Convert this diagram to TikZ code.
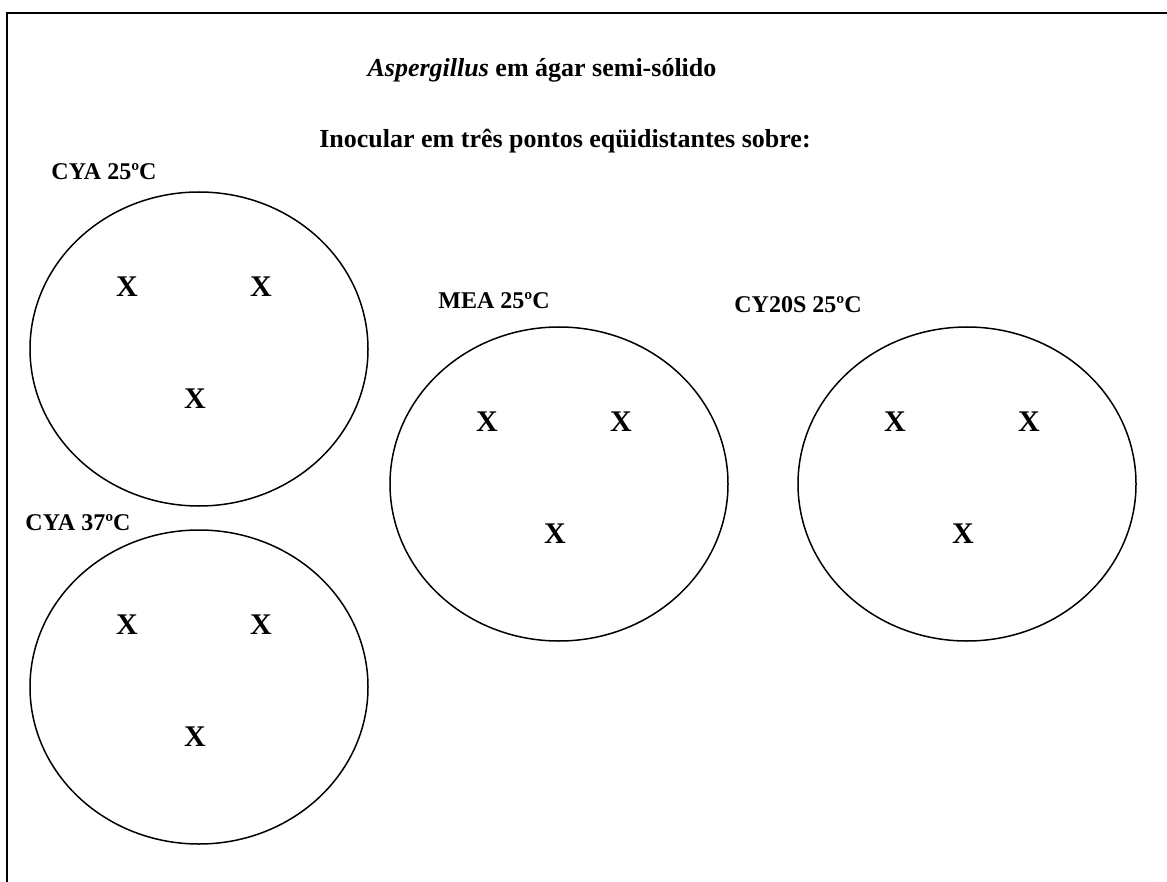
\documentclass[tikz,border=0pt]{standalone}
\usepackage{fontspec}
\setmainfont{Liberation Serif}
\usetikzlibrary{shapes.geometric,positioning}

\begin{document}
\begin{tikzpicture}[x=1pt, y=-1pt,
  plate/.style={draw, ellipse, line width=1.5pt, minimum width=338pt,
    minimum height=314pt, inner sep=0pt},
  spot/.style={font=\fontsize{30}{30}\selectfont\bfseries, inner sep=0pt},
  platelabel/.style={font=\fontsize{24}{24}\selectfont\bfseries, inner sep=0pt},
  heading/.style={font=\fontsize{26}{26}\selectfont\bfseries, inner sep=0pt}]
  \useasboundingbox (0,0) rectangle (1167,882);
  \draw[line width=2pt] (7,882) -- (7,13) -- (1167,13);
  \node[heading] (title) at (542,70) {\textit{Aspergillus} em ágar semi-sólido};
  \node[heading] (task) at (565,141) {Inocular em três pontos eqüidistantes sobre:};
  % plates with three inoculation points
  \foreach \name/\px/\py/\lx/\ly/\txt in {cya25/199/349/104/172/CYA 25ºC,
      cya37/199/687/78/523/CYA 37ºC, mea/559/484/494/301/MEA 25ºC,
      cy20s/967/484/798/305/CY20S 25ºC} {
    \node[plate] (\name) at (\px,\py) {};
    \node[platelabel] (\name-label) at (\lx,\ly) {\txt};
    \node[spot] (\name-a) at ([shift={(-72,-62)}]\name.center) {X};
    \node[spot] (\name-b) at ([shift={(62,-62)}]\name.center) {X};
    \node[spot] (\name-c) at ([shift={(-4,50)}]\name.center) {X};
  }
\end{tikzpicture}
\end{document}
